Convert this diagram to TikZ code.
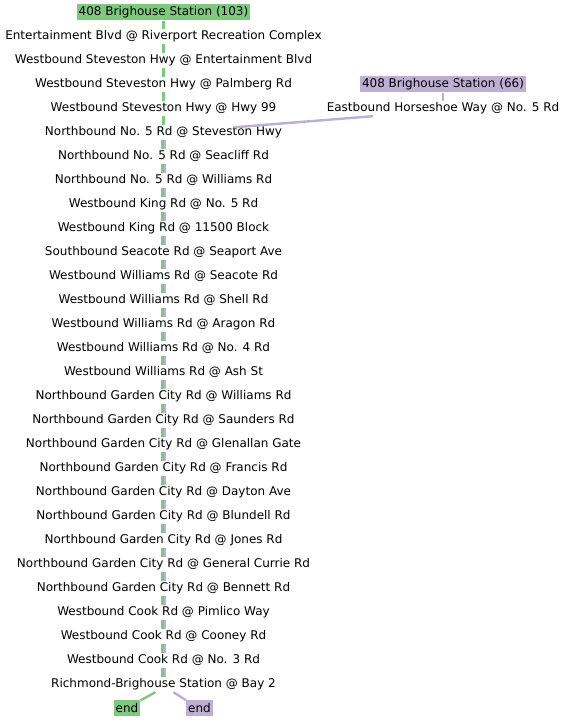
\documentclass[tikz,border=0pt]{standalone}
\usepackage{fontspec}
\setmainfont{DejaVu Sans}
\definecolor{rgreen}{HTML}{7FC97F}
\definecolor{rpurple}{HTML}{BEAED4}
\begin{document}
\begin{tikzpicture}[x=1pt,y=1pt,
  stop/.style={font=\fontsize{12}{14}\selectfont, text height=9pt, text depth=3pt, inner xsep=2pt, inner ysep=1.5pt, anchor=center},
  gbox/.style={stop, fill=rgreen, inner ysep=2pt, text depth=2.5pt, text height=9.5pt},
  pbox/.style={stop, fill=rpurple, inner ysep=2pt, text depth=2.5pt, text height=9.5pt},
  gline/.style={draw=rgreen, line width=2.4pt},
  pline/.style={draw=rpurple, line width=2.4pt}]
\useasboundingbox (0,0) rectangle (566,720);
\node[gbox] (s0) at (163.5,707.5) {408 Brighouse Station (103)};
\foreach \t [count=\i] in {
Entertainment Blvd @ Riverport Recreation Complex,
Westbound Steveston Hwy @ Entertainment Blvd,
Westbound Steveston Hwy @ Palmberg Rd,
Westbound Steveston Hwy @ Hwy 99,
Northbound No. 5 Rd @ Steveston Hwy,
Northbound No. 5 Rd @ Seacliff Rd,
Northbound No. 5 Rd @ Williams Rd,
Westbound King Rd @ No. 5 Rd,
Westbound King Rd @ 11500 Block,
Southbound Seacote Rd @ Seaport Ave,
Westbound Williams Rd @ Seacote Rd,
Westbound Williams Rd @ Shell Rd,
Westbound Williams Rd @ Aragon Rd,
Westbound Williams Rd @ No. 4 Rd,
Westbound Williams Rd @ Ash St,
Northbound Garden City Rd @ Williams Rd,
Northbound Garden City Rd @ Saunders Rd,
Northbound Garden City Rd @ Glenallan Gate,
Northbound Garden City Rd @ Francis Rd,
Northbound Garden City Rd @ Dayton Ave,
Northbound Garden City Rd @ Blundell Rd,
Northbound Garden City Rd @ Jones Rd,
Northbound Garden City Rd @ General Currie Rd,
Northbound Garden City Rd @ Bennett Rd,
Westbound Cook Rd @ Pimlico Way,
Westbound Cook Rd @ Cooney Rd,
Westbound Cook Rd @ No. 3 Rd,
Richmond-Brighouse Station @ Bay 2}
  \node[stop] (s\i) at (163.5,707.5-24*\i) {\t};
\node[pbox] (p0) at (443,635.5) {408 Brighouse Station (66)};
\node[stop] (p1) at (443,611.5) {Eastbound Horseshoe Way @ No. 5 Rd};
\node[gbox] (eg) at (127,11.5) {end};
\node[pbox] (ep) at (199.5,11.5) {end};
% green route
\foreach \i [evaluate=\i as \j using int(\i+1)] in {0,...,4}
  \draw[gline] (s\i.south) -- (s\j.north);
\foreach \i [evaluate=\i as \j using int(\i+1)] in {5,...,27}
  \draw[gline] ([xshift=-1.1pt]s\i.south) -- ([xshift=-1.1pt]s\j.north);
\draw[gline] ([xshift=-8pt]s28.south) -- (eg.north east);
% purple route
\draw[pline] (p0.south) -- (p1.north);
\coordinate (pj) at ([xshift=70.5pt,yshift=-2.5pt]s5.north);
\draw[pline] ([xshift=-70pt]p1.south) -- (pj);
\foreach \i [evaluate=\i as \j using int(\i+1)] in {5,...,27}
  \draw[pline] ([xshift=1.3pt]s\i.south) -- ([xshift=1.3pt]s\j.north);
\draw[pline] ([xshift=10pt]s28.south) -- (ep.north west);
\end{tikzpicture}
\end{document}
